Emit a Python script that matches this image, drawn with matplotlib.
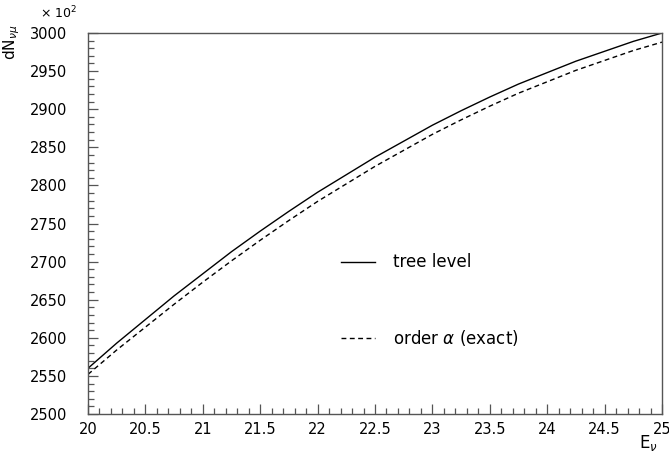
import matplotlib
matplotlib.use("Agg")
import matplotlib.pyplot as plt
from matplotlib.ticker import MultipleLocator, FormatStrFormatter

# data (units of 10^2)
energy = [20.0, 20.25, 20.5, 20.75, 21.0, 21.25, 21.5, 21.75, 22.0, 22.25, 22.5,
          22.75, 23.0, 23.25, 23.5, 23.75, 24.0, 24.25, 24.5, 24.75, 25.0]
tree_level = [2560, 2593, 2624, 2655, 2684, 2713, 2740, 2766, 2791, 2814, 2837,
              2858, 2879, 2898, 2916, 2933, 2948, 2963, 2976, 2989, 3000]
order_alpha = [2552, 2584, 2614, 2644, 2673, 2701, 2728, 2754, 2779, 2802, 2825,
               2846, 2867, 2886, 2904, 2921, 2936, 2951, 2964, 2977, 2988]
x_ticks = [20, 20.5, 21, 21.5, 22, 22.5, 23, 23.5, 24, 24.5, 25]
y_ticks = [2500, 2550, 2600, 2650, 2700, 2750, 2800, 2850, 2900, 2950, 3000]

plt.rcParams['font.family'] = ['DejaVu Sans']
fig = plt.figure(figsize=(6.69, 4.57), dpi=100)
ax = fig.add_axes([88/669, 43/457, 574/669, 381/457])

ax.plot(energy, tree_level, color='black', lw=1.0, ls='-')
ax.plot(energy, order_alpha, color='black', lw=1.0, ls=(0, (3.5, 2.5)))

ax.set_xlim(20, 25)
ax.set_ylim(2500, 3000)
ax.set_xticks(x_ticks)
ax.set_yticks(y_ticks)
ax.xaxis.set_minor_locator(MultipleLocator(0.1))
ax.yaxis.set_minor_locator(MultipleLocator(10))
ax.xaxis.set_major_formatter(FormatStrFormatter('%g'))
ax.tick_params(which='major', direction='in', length=7, width=0.9, color='#555555',
               labelsize=10.5, pad=6)
ax.tick_params(which='minor', direction='in', length=4, width=0.9, color='#555555')
ax.tick_params(axis='y', pad=15)
for s in ax.spines.values():
    s.set_color('#555555')
    s.set_linewidth(1.0)

fig.text(40/669, 1 - 13/457, r'$\times$ 10$^2$', fontsize=9, ha='left', va='center')
fig.text(12/669, 1 - 42/457, r'dN$_{\nu\mu}$', fontsize=11, rotation=90,
         ha='center', va='center')
fig.text(648/669, 1 - 443/457, r'E$_{\nu}$', fontsize=12, ha='center', va='center')

# legend drawn as text
ax.plot([22.2, 22.5], [2700, 2700], color='black', lw=1.0, ls='-')
ax.text(22.66, 2700, 'tree level', fontsize=12, va='center', ha='left')
ax.plot([22.2, 22.5], [2600, 2600], color='black', lw=1.0, ls=(0, (3.5, 2.5)))
ax.text(22.66, 2600, r'order $\alpha$ (exact)', fontsize=12, va='center', ha='left')

fig.savefig('out.png', dpi=100)
